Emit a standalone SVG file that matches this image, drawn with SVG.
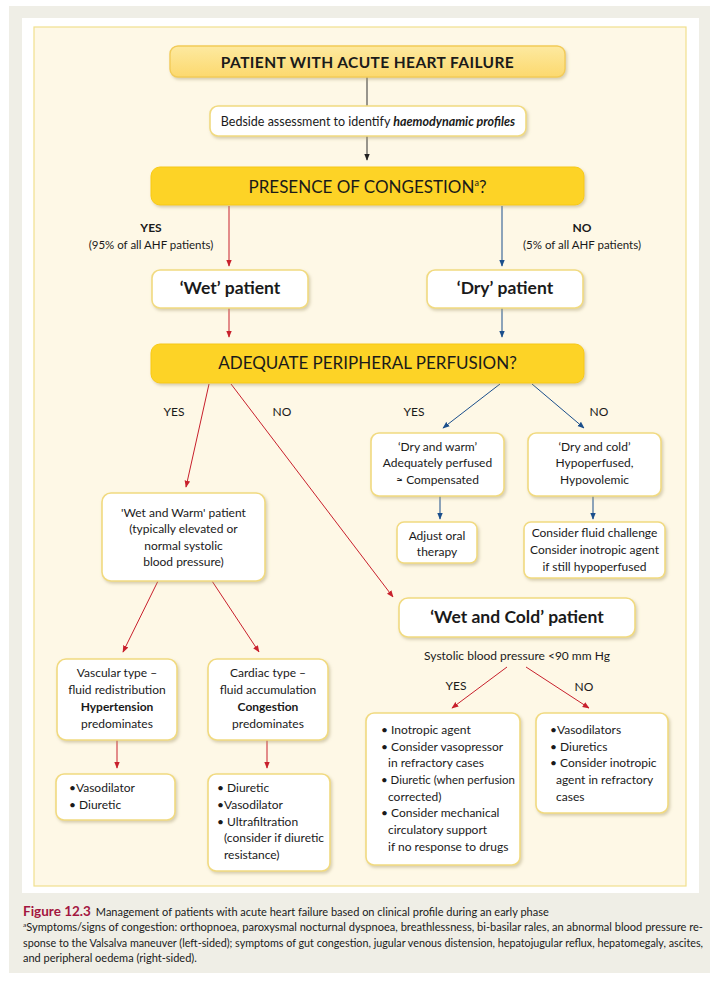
<svg xmlns="http://www.w3.org/2000/svg" width="720" height="981" viewBox="0 0 720 981">
<defs>
<style>
text{font-family:Lato,"Liberation Sans",sans-serif;fill:#1a1a1a}
.c{text-anchor:middle}
.s12{font-size:12px}
.s11{font-size:11.5px}
.b{font-weight:bold}
.wbox{fill:#ffffff;stroke:#f1da80;stroke-width:1.6}
.gbox{fill:#fdd326;stroke:#f7c915;stroke-width:1}
.red{stroke:#c8202c;stroke-width:1;fill:none}
.blue{stroke:#1b4f8c;stroke-width:1;fill:none}
.blk{stroke:#333333;stroke-width:1;fill:none}
.cap{font-size:11px}
</style>
<linearGradient id="gTop" x1="0" y1="0" x2="0" y2="1">
<stop offset="0" stop-color="#fde9a0"/>
<stop offset="1" stop-color="#fcd96e"/>
</linearGradient>
<filter id="sh" x="-10%" y="-20%" width="120%" height="150%">
<feDropShadow dx="1.5" dy="2" stdDeviation="1.5" flood-color="#a89c70" flood-opacity="0.45"/>
</filter>
<marker id="aR" viewBox="0 0 10 10" refX="9" refY="5" markerWidth="7" markerHeight="7" markerUnits="userSpaceOnUse" orient="auto">
<path d="M0,1 L10,5 L0,9 Z" fill="#c8202c"/>
</marker>
<marker id="aB" viewBox="0 0 10 10" refX="9" refY="5" markerWidth="7" markerHeight="7" markerUnits="userSpaceOnUse" orient="auto">
<path d="M0,1 L10,5 L0,9 Z" fill="#1b4f8c"/>
</marker>
<marker id="aK" viewBox="0 0 10 10" refX="9" refY="5" markerWidth="7" markerHeight="7" markerUnits="userSpaceOnUse" orient="auto">
<path d="M0,1 L10,5 L0,9 Z" fill="#222222"/>
</marker>
</defs>

<!-- background panels -->
<rect x="0" y="0" width="720" height="981" fill="#ffffff"/>
<rect x="9" y="6" width="701" height="967" fill="#efeee6"/>
<rect x="22" y="18" width="677" height="875" fill="#ffffff"/>
<rect x="34" y="27" width="652" height="859" fill="#fef8e6" stroke="#f0e08e" stroke-width="1.2"/>

<!-- connectors -->
<g id="connectors">
<line class="blk" x1="367" y1="77" x2="367" y2="106"/>
<line class="blk" x1="367" y1="136" x2="367" y2="160" marker-end="url(#aK)"/>
<line class="red" x1="229" y1="206" x2="229" y2="266" marker-end="url(#aR)"/>
<line class="blue" x1="502" y1="206" x2="502" y2="266" marker-end="url(#aB)"/>
<line class="red" x1="229" y1="308" x2="229" y2="337" marker-end="url(#aR)"/>
<line class="blue" x1="502" y1="308" x2="502" y2="337" marker-end="url(#aB)"/>
<line class="red" x1="209" y1="384" x2="186" y2="487" marker-end="url(#aR)"/>
<line class="red" x1="231" y1="384" x2="393" y2="597" marker-end="url(#aR)"/>
<line class="blue" x1="500" y1="384" x2="443" y2="428" marker-end="url(#aB)"/>
<line class="blue" x1="532" y1="384" x2="584" y2="428" marker-end="url(#aB)"/>
<line class="blue" x1="440" y1="496" x2="440" y2="519" marker-end="url(#aB)"/>
<line class="blue" x1="593" y1="496" x2="593" y2="519" marker-end="url(#aB)"/>
<line class="red" x1="158" y1="581" x2="123" y2="652" marker-end="url(#aR)"/>
<line class="red" x1="212" y1="581" x2="259" y2="652" marker-end="url(#aR)"/>
<line class="red" x1="117" y1="740" x2="117" y2="768" marker-end="url(#aR)"/>
<line class="red" x1="267" y1="740" x2="267" y2="768" marker-end="url(#aR)"/>
<line class="red" x1="507" y1="667" x2="452" y2="708" marker-end="url(#aR)"/>
<line class="red" x1="526" y1="667" x2="589" y2="708" marker-end="url(#aR)"/>
</g>

<!-- edge labels -->
<g id="labels">
<text class="c s12 b" x="151" y="232">YES</text>
<text class="c s11" x="151" y="249">(95% of all AHF patients)</text>
<text class="c s12 b" x="582" y="232">NO</text>
<text class="c s11" x="582" y="249">(5% of all AHF patients)</text>
<text class="c s12" x="174" y="416">YES</text>
<text class="c s12" x="282" y="416">NO</text>
<text class="c s12" x="414" y="416">YES</text>
<text class="c s12" x="599" y="416">NO</text>
<text class="c s12" x="456" y="690">YES</text>
<text class="c s12" x="584" y="691">NO</text>
</g>

<g id="n-start">
<rect x="170" y="46" width="395" height="31" rx="8" fill="url(#gTop)" stroke="#f2cb58" stroke-width="1.4" filter="url(#sh)"/>
<text class="c b" x="367.5" y="67.5" font-size="15.5" letter-spacing="0.4">PATIENT WITH ACUTE HEART FAILURE</text>
</g>

<g id="n-bedside">
<rect class="wbox" x="210" y="106" width="316" height="30" rx="8" filter="url(#sh)"/>
<text class="c" x="368" y="125.5" font-size="12.5">Bedside assessment to identify <tspan font-weight="bold" font-style="italic">haemodynamic profiles</tspan></text>
</g>

<g id="n-congestion">
<rect class="gbox" x="151" y="167" width="433" height="38" rx="9" filter="url(#sh)"/>
<text class="c" x="367.5" y="193" font-size="17">PRESENCE OF CONGESTION<tspan font-size="9" dy="-7">a</tspan><tspan dy="7">?</tspan></text>
</g>

<g id="n-wet">
<rect class="wbox" x="152" y="270" width="156" height="38" rx="8" filter="url(#sh)"/>
<text class="c b" x="230" y="294" font-size="17.5">‘Wet’ patient</text>
</g>

<g id="n-dry">
<rect class="wbox" x="427" y="270" width="156" height="38" rx="8" filter="url(#sh)"/>
<text class="c b" x="505" y="294" font-size="17.5">‘Dry’ patient</text>
</g>

<g id="n-perfusion">
<rect class="gbox" x="151" y="344" width="433" height="39" rx="9" filter="url(#sh)"/>
<text class="c" x="367.5" y="369" font-size="17">ADEQUATE PERIPHERAL PERFUSION?</text>
</g>

<g id="n-drywarm">
<rect class="wbox" x="371" y="433" width="133" height="63" rx="8" filter="url(#sh)"/>
<text class="c s12" x="437.5" y="451">‘Dry and warm’</text>
<text class="c s12" x="437.5" y="467">Adequately perfused</text>
<text class="c s12" x="437.5" y="484">≈ Compensated</text>
</g>

<g id="n-drycold">
<rect class="wbox" x="528" y="433" width="133" height="63" rx="8" filter="url(#sh)"/>
<text class="c s12" x="594.5" y="451">‘Dry and cold’</text>
<text class="c s12" x="594.5" y="467">Hypoperfused,</text>
<text class="c s12" x="594.5" y="484">Hypovolemic</text>
</g>

<g id="n-adjust">
<rect class="wbox" x="397" y="522" width="80" height="41" rx="7" filter="url(#sh)"/>
<text class="c s12" x="437" y="540">Adjust oral</text>
<text class="c s12" x="437" y="556">therapy</text>
</g>

<g id="n-fluid">
<rect class="wbox" x="524" y="522" width="141" height="56" rx="7" filter="url(#sh)"/>
<text class="c s12" x="594.5" y="537">Consider fluid challenge</text>
<text class="c s12" x="594.5" y="554">Consider inotropic agent</text>
<text class="c s12" x="594.5" y="571">if still hypoperfused</text>
</g>

<g id="n-wetwarm">
<rect class="wbox" x="102" y="493" width="163" height="88" rx="9" filter="url(#sh)"/>
<text class="c s12" x="183.5" y="517">'Wet and Warm' patient</text>
<text class="c s12" x="183.5" y="533">(typically elevated or</text>
<text class="c s12" x="183.5" y="550">normal systolic</text>
<text class="c s12" x="183.5" y="566">blood pressure)</text>
</g>

<g id="n-vascular">
<rect class="wbox" x="57" y="659" width="120" height="81" rx="9" filter="url(#sh)"/>
<text class="c s12" x="117" y="677">Vascular type –</text>
<text class="c s12" x="117" y="694">fluid redistribution</text>
<text class="c s12 b" x="117" y="711">Hypertension</text>
<text class="c s12" x="117" y="728">predominates</text>
</g>

<g id="n-cardiac">
<rect class="wbox" x="208" y="659" width="120" height="81" rx="9" filter="url(#sh)"/>
<text class="c s12" x="268" y="677">Cardiac type –</text>
<text class="c s12" x="268" y="694">fluid accumulation</text>
<text class="c s12 b" x="268" y="711">Congestion</text>
<text class="c s12" x="268" y="728">predominates</text>
</g>

<g id="n-vasodilator">
<rect class="wbox" x="56" y="774" width="119" height="46" rx="8" filter="url(#sh)"/>
<text class="s12" x="69" y="792">•Vasodilator</text>
<text class="s12" x="69" y="809">• Diuretic</text>
</g>

<g id="n-diuretic">
<rect class="wbox" x="208" y="774" width="122" height="97" rx="8" filter="url(#sh)"/>
<text class="s12" x="217" y="792">• Diuretic</text>
<text class="s12" x="217" y="809">•Vasodilator</text>
<text class="s12" x="217" y="826">• Ultrafiltration</text>
<text class="s12" x="224" y="842">(consider if diuretic</text>
<text class="s12" x="224" y="859">resistance)</text>
</g>

<g id="n-wetcold">
<rect class="wbox" x="399" y="598" width="236" height="39" rx="9" filter="url(#sh)"/>
<text class="c b" x="517" y="623" font-size="17.5">‘Wet and Cold’ patient</text>
<text class="c s12" x="517" y="660">Systolic blood pressure &lt;90 mm Hg</text>
</g>

<g id="n-inotropic">
<rect class="wbox" x="366" y="713" width="154" height="152" rx="8" filter="url(#sh)"/>
<text class="s12" x="381" y="734">• Inotropic agent</text>
<text class="s12" x="381" y="751">• Consider vasopressor</text>
<text class="s12" x="388" y="767">in refractory cases</text>
<text class="s12" x="381" y="784" textLength="134" lengthAdjust="spacingAndGlyphs">• Diuretic (when perfusion</text>
<text class="s12" x="388" y="801">corrected)</text>
<text class="s12" x="381" y="817">• Consider mechanical</text>
<text class="s12" x="388" y="834">circulatory support</text>
<text class="s12" x="388" y="851">if no response to drugs</text>
</g>

<g id="n-vasodilators">
<rect class="wbox" x="536" y="713" width="132" height="100" rx="8" filter="url(#sh)"/>
<text class="s12" x="550" y="734">•Vasodilators</text>
<text class="s12" x="550" y="751">• Diuretics</text>
<text class="s12" x="550" y="767">• Consider inotropic</text>
<text class="s12" x="556" y="784">agent in refractory</text>
<text class="s12" x="556" y="801">cases</text>
</g>

<!-- caption -->
<g id="caption">
<text class="cap" x="23" y="916"><tspan font-size="13.5" font-weight="bold" fill="#a3163f">Figure 12.3</tspan><tspan dx="5">Management of patients with acute heart failure based on clinical profile during an early phase</tspan></text>
<text class="cap" x="23" y="931" textLength="680" lengthAdjust="spacingAndGlyphs"><tspan font-size="6.5" dy="-4">a</tspan><tspan dy="4">Symptoms/signs of congestion: orthopnoea, paroxysmal nocturnal dyspnoea, breathlessness, bi-basilar rales, an abnormal blood pressure re-</tspan></text>
<text class="cap" x="23" y="946.5" textLength="680" lengthAdjust="spacingAndGlyphs">sponse to the Valsalva maneuver (left-sided); symptoms of gut congestion, jugular venous distension, hepatojugular reflux, hepatomegaly, ascites,</text>
<text class="cap" x="23" y="962">and peripheral oedema (right-sided).</text>
</g>
</svg>
